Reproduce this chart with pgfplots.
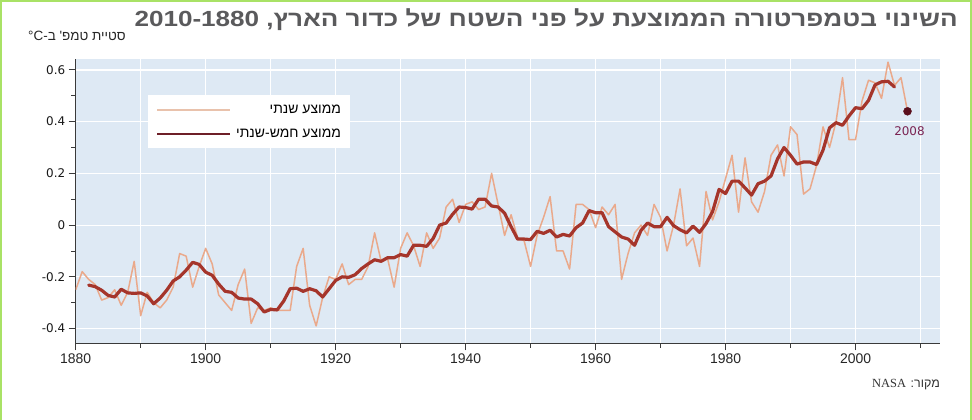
\documentclass[border=0pt]{standalone}
\usepackage{fontspec}
\usepackage{pgfplots}
\usepackage{pgfplotstable}
\pgfplotsset{compat=1.18}
\setmainfont{Liberation Sans}
\newfontfamily\heb[Script=Hebrew]{Liberation Sans}
\newfontfamily\hebtitle[Script=Hebrew, FakeStretch=1.19]{Liberation Sans}
\newfontfamily\serif{Liberation Serif}
\newfontfamily\dejavu{DejaVu Sans}
\TeXXeTstate=1

\definecolor{plotbg}{HTML}{DEE9F4}
\definecolor{annual}{HTML}{EAA98B}
\definecolor{annuallegend}{HTML}{E9C2AC}
\definecolor{fiveyr}{HTML}{A5352B}
\definecolor{fiveyrlegend}{HTML}{6E1F28}
\definecolor{dotcol}{HTML}{5A0F1C}
\definecolor{purplelab}{HTML}{7A2352}
\definecolor{titlegray}{HTML}{5A5A5C}
\definecolor{axisgray}{HTML}{3A3A3A}
\definecolor{frame}{HTML}{A9E266}

% annual mean, deg C
\pgfplotstableread{
year val
1880 -0.25
1881 -0.18
1882 -0.21
1883 -0.23
1884 -0.29
1885 -0.28
1886 -0.25
1887 -0.31
1888 -0.26
1889 -0.14
1890 -0.35
1891 -0.26
1892 -0.30
1893 -0.32
1894 -0.29
1895 -0.24
1896 -0.11
1897 -0.12
1898 -0.24
1899 -0.16
1900 -0.09
1901 -0.15
1902 -0.27
1903 -0.30
1904 -0.33
1905 -0.23
1906 -0.17
1907 -0.38
1908 -0.32
1909 -0.33
1910 -0.32
1911 -0.33
1912 -0.33
1913 -0.33
1914 -0.16
1915 -0.09
1916 -0.31
1917 -0.39
1918 -0.28
1919 -0.20
1920 -0.21
1921 -0.15
1922 -0.23
1923 -0.21
1924 -0.21
1925 -0.16
1926 -0.03
1927 -0.14
1928 -0.13
1929 -0.24
1930 -0.09
1931 -0.03
1932 -0.08
1933 -0.16
1934 -0.03
1935 -0.09
1936 -0.05
1937 0.07
1938 0.10
1939 0.01
1940 0.08
1941 0.09
1942 0.06
1943 0.07
1944 0.20
1945 0.08
1946 -0.04
1947 0.04
1948 -0.05
1949 -0.06
1950 -0.16
1951 -0.04
1952 0.03
1953 0.11
1954 -0.10
1955 -0.10
1956 -0.17
1957 0.08
1958 0.08
1959 0.06
1960 -0.01
1961 0.07
1962 0.04
1963 0.08
1964 -0.21
1965 -0.11
1966 -0.03
1967 0.00
1968 -0.04
1969 0.08
1970 0.03
1971 -0.10
1972 0.00
1973 0.14
1974 -0.08
1975 -0.05
1976 -0.16
1977 0.13
1978 0.02
1979 0.09
1980 0.18
1981 0.27
1982 0.05
1983 0.26
1984 0.09
1985 0.05
1986 0.13
1987 0.27
1988 0.31
1989 0.19
1990 0.38
1991 0.35
1992 0.12
1993 0.14
1994 0.23
1995 0.38
1996 0.30
1997 0.40
1998 0.57
1999 0.33
2000 0.33
2001 0.48
2002 0.56
2003 0.55
2004 0.49
2005 0.63
2006 0.54
2007 0.57
2008 0.44
}\annualtab

% five-year mean
\pgfplotstableread{
year val
1882 -0.232
1883 -0.238
1884 -0.252
1885 -0.272
1886 -0.278
1887 -0.248
1888 -0.262
1889 -0.264
1890 -0.262
1891 -0.274
1892 -0.304
1893 -0.282
1894 -0.252
1895 -0.216
1896 -0.200
1897 -0.174
1898 -0.144
1899 -0.152
1900 -0.182
1901 -0.194
1902 -0.228
1903 -0.256
1904 -0.260
1905 -0.282
1906 -0.286
1907 -0.286
1908 -0.304
1909 -0.336
1910 -0.326
1911 -0.328
1912 -0.294
1913 -0.246
1914 -0.244
1915 -0.256
1916 -0.246
1917 -0.254
1918 -0.278
1919 -0.246
1920 -0.214
1921 -0.200
1922 -0.202
1923 -0.192
1924 -0.168
1925 -0.150
1926 -0.134
1927 -0.140
1928 -0.126
1929 -0.126
1930 -0.114
1931 -0.120
1932 -0.078
1933 -0.078
1934 -0.082
1935 -0.052
1936 0.000
1937 0.008
1938 0.042
1939 0.070
1940 0.068
1941 0.062
1942 0.100
1943 0.100
1944 0.074
1945 0.070
1946 0.046
1947 -0.006
1948 -0.054
1949 -0.054
1950 -0.056
1951 -0.024
1952 -0.032
1953 -0.020
1954 -0.046
1955 -0.036
1956 -0.042
1957 -0.010
1958 0.008
1959 0.056
1960 0.048
1961 0.048
1962 -0.006
1963 -0.026
1964 -0.046
1965 -0.054
1966 -0.078
1967 -0.020
1968 0.008
1969 -0.006
1970 -0.006
1971 0.030
1972 -0.002
1973 -0.018
1974 -0.030
1975 -0.004
1976 -0.028
1977 0.006
1978 0.052
1979 0.138
1980 0.122
1981 0.170
1982 0.170
1983 0.144
1984 0.116
1985 0.160
1986 0.170
1987 0.190
1988 0.256
1989 0.300
1990 0.270
1991 0.236
1992 0.244
1993 0.244
1994 0.234
1995 0.290
1996 0.376
1997 0.396
1998 0.386
1999 0.422
2000 0.454
2001 0.450
2002 0.482
2003 0.542
2004 0.554
2005 0.556
2006 0.534
}\fivetab

\begin{document}
\begin{tikzpicture}
\path[use as bounding box] (0bp,0bp) rectangle (972bp,-420bp);
\fill[white] (0bp,0bp) rectangle (972bp,-420bp);
\draw[frame, line width=2.5bp] (1bp,-420bp) -- (1bp,-1bp) -- (971bp,-1bp) -- (971bp,-420bp);

% title and labels around the axis
\node[anchor=north east, inner sep=0pt, text=titlegray,
      font=\hebtitle\bfseries\fontsize{22}{22}\selectfont] at (958bp,-8bp)
  {\beginR השינוי בטמפרטורה הממוצעת על פני השטח של כדור הארץ, \beginL 2010-1880\endL\endR};
\node[anchor=north west, inner sep=0pt, text=black!85,
      font=\heb\fontsize{13.5}{13.5}\selectfont] at (28bp,-31bp)
  {\beginR סטיית טמפ' ב-\beginL°C\endL\endR};
\node[anchor=base east, inner sep=0pt, text=black!80,
      font=\heb\fontsize{12.5}{12.5}\selectfont] at (940bp,-387bp)
  {\beginR מקור: {\serif\beginL NASA\endL}\endR};

\begin{axis}[
    at={(75.7bp,-343.3bp)}, anchor=south west,
    scale only axis, width=864.3bp, height=284bp,
    xmin=1880, xmax=2013,
    ymin=-0.457, ymax=0.641,
    axis background/.style={fill=plotbg},
    axis x line*=bottom, axis y line*=left,
    axis line style={-, draw=axisgray, line width=0.9bp},
    tick align=outside,
    tick style={axisgray, line width=0.9bp},
    major tick length=7bp, minor tick length=4.5bp,
    xtick={1880,1900,...,2000},
    xticklabels={1880,1900,1920,1940,1960,1980,2000},
    minor xtick={1890,1910,...,2010},
    ytick={-0.4,-0.2,0,0.2,0.4,0.6},
    yticklabels={-0.4,-0.2,0,0.2,0.4,0.6},
    minor ytick={-0.3,-0.1,0.1,0.3,0.5},
    xmajorgrids, xminorgrids, ymajorgrids,
    major grid style={white, line width=1.2bp},
    minor grid style={white, line width=1.2bp},
    x tick label style={font=\fontsize{14}{14}\selectfont, text=black!85},
    y tick label style={font=\dejavu\fontsize{12}{12}\selectfont, text=black!90},
    legend style={at={(rel axis cs:0.0837,0.874)}, anchor=north west,
        draw=none, fill=white, inner xsep=8bp, inner ysep=8bp,
        row sep=11bp, column sep=3bp,
        font=\heb\fontsize{14}{14}\selectfont,
        nodes={inner sep=1.5bp}},
    legend cell align=right,
    legend image code/.code={\draw[#1] (0bp,0bp) -- (73bp,0bp);},
]
\addplot[annual, line width=1.5bp, line join=round, forget plot] table[x=year, y=val] {\annualtab};
\addplot[fiveyr, line width=3.2bp, line join=round, line cap=round, forget plot] table[x=year, y=val] {\fivetab};
\addplot[only marks, mark=*, mark size=4bp, color=dotcol, forget plot] coordinates {(2008,0.44)};
\node[text=purplelab, font=\dejavu\fontsize{12}{12}\selectfont] at (axis cs:2008.3,0.44) [yshift=-20bp] {2008};

\addlegendimage{annuallegend, line width=1.5bp}
\addlegendentry{\beginR ממוצע שנתי\endR}
\addlegendimage{fiveyrlegend, line width=2.5bp}
\addlegendentry{\beginR ממוצע חמש-שנתי\endR}
\end{axis}
\end{tikzpicture}
\end{document}
